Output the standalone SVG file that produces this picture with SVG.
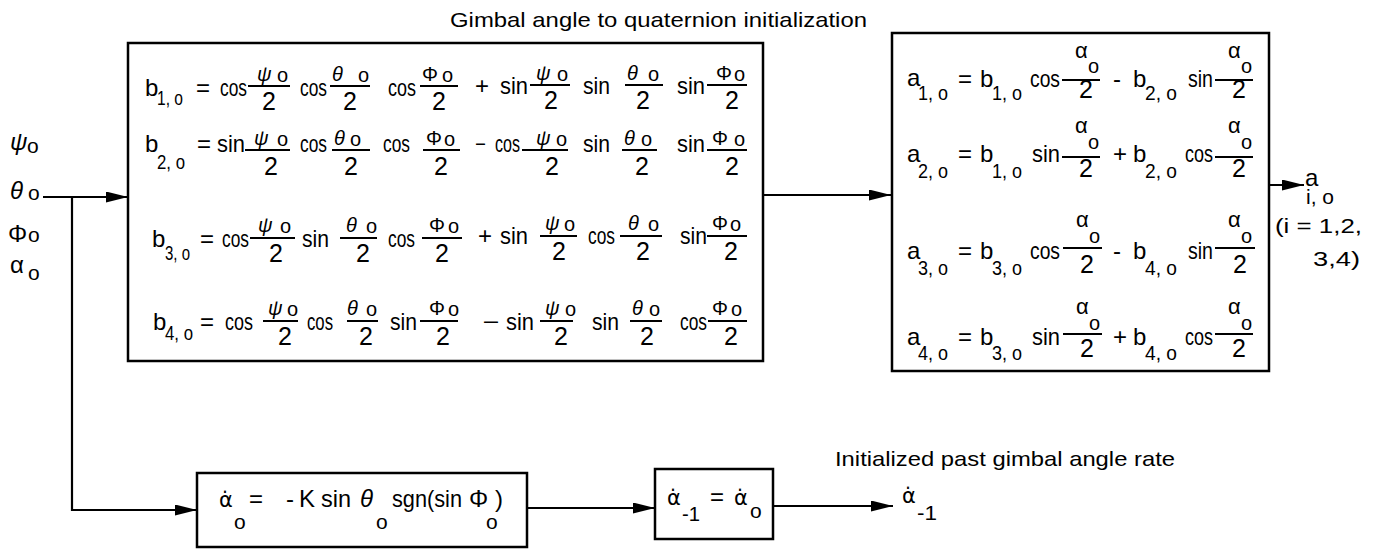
<svg xmlns="http://www.w3.org/2000/svg" width="1381" height="549" viewBox="0 0 1381 549">
<style>
text { font-family: "Liberation Sans", Arial, sans-serif; fill: #000; }
.m { font-size: 24px; }
.s { font-size: 21px; }
.n { font-size: 20px; }
.na { font-size: 22px; }
.d { font-size: 25px; }
.l { font-size: 21px; }
.i { font-style: italic; }
.dv { font-family: "DejaVu Sans", sans-serif; font-size: 21px; }
.box { fill: #fff; stroke: #000; stroke-width: 2.5; }
.f { stroke: #000; stroke-width: 2; }
.c { fill: none; stroke: #000; stroke-width: 2.2; }
</style>
<defs>
<marker id="ah" markerUnits="userSpaceOnUse" markerWidth="22" markerHeight="11" refX="22" refY="5.5" orient="auto">
<path d="M0,0 L22,5.5 L0,11 z" fill="#000"/>
</marker>
</defs>
<rect width="1381" height="549" fill="#fff"/>

<g id="connectors">
<path class="c" d="M43,197 H128" marker-end="url(#ah)"/>
<path class="c" d="M72,197 V510 H197" marker-end="url(#ah)"/>
<path class="c" d="M763,195 H891" marker-end="url(#ah)"/>
<path class="c" d="M1269,185 H1304" marker-end="url(#ah)"/>
<path class="c" d="M527,508 H655" marker-end="url(#ah)"/>
<path class="c" d="M773,506 H893" marker-end="url(#ah)"/>
</g>

<g id="inputs">
<text class="m i" x="10" y="150">ψ</text><text class="s" x="27" y="153">o</text>
<text class="m i" x="10" y="199">θ</text><text class="s" x="28" y="200">o</text>
<text class="m" x="8" y="242">Φ</text><text class="s" x="28" y="242">o</text>
<text class="m" x="10" y="273">α</text><text class="s" x="28" y="280">o</text>
</g>

<g id="quaternion-b">
<text class="l" x="450" y="27" textLength="417" lengthAdjust="spacingAndGlyphs">Gimbal angle to quaternion initialization</text>
<rect class="box" x="128" y="43" width="635" height="318"/>
<!-- row 1 -->
<text class="m" x="145" y="96">b</text>
<text class="s" x="157" y="105" textLength="26" lengthAdjust="spacingAndGlyphs">1, o</text>
<text class="m" x="196" y="96">=</text>
<text class="m" x="220" y="96" textLength="27" lengthAdjust="spacingAndGlyphs">cos</text>
<line class="f" x1="248" y1="86" x2="290" y2="86"/><text class="n" y="81"><tspan class="i" x="257">ψ</tspan><tspan x="277" dy="1">o</tspan></text><text class="d" x="269" y="110" text-anchor="middle">2</text>
<text class="m" x="300" y="96" textLength="27" lengthAdjust="spacingAndGlyphs">cos</text>
<line class="f" x1="330" y1="86" x2="370" y2="86"/><text class="n" y="81"><tspan class="i" x="332">θ</tspan><tspan x="358" dy="1">o</tspan></text><text class="d" x="350" y="110" text-anchor="middle">2</text>
<text class="m" x="388" y="96" textLength="28" lengthAdjust="spacingAndGlyphs">cos</text>
<line class="f" x1="420" y1="86" x2="458" y2="86"/><text class="n" y="81"><tspan x="422">Φ</tspan><tspan x="442" dy="1">o</tspan></text><text class="d" x="439" y="110" text-anchor="middle">2</text>
<text class="m" x="475" y="94">+</text>
<text class="m" x="500" y="94" textLength="28" lengthAdjust="spacingAndGlyphs">sin</text>
<line class="f" x1="530" y1="85" x2="570" y2="85"/><text class="n" y="80"><tspan class="i" x="536">ψ</tspan><tspan x="557" dy="1">o</tspan></text><text class="d" x="551" y="109" text-anchor="middle">2</text>
<text class="m" x="583" y="94" textLength="27" lengthAdjust="spacingAndGlyphs">sin</text>
<line class="f" x1="625" y1="85" x2="663" y2="85"/><text class="n" y="80"><tspan class="i" x="627">θ</tspan><tspan x="648" dy="1">o</tspan></text><text class="d" x="643" y="109" text-anchor="middle">2</text>
<text class="m" x="677" y="94" textLength="28" lengthAdjust="spacingAndGlyphs">sin</text>
<line class="f" x1="707" y1="85" x2="747" y2="85"/><text class="n" y="80"><tspan x="716">Φ</tspan><tspan x="734" dy="1">o</tspan></text><text class="d" x="732" y="109" text-anchor="middle">2</text>
<!-- row 2 -->
<text class="m" x="145" y="152">b</text>
<text class="s" x="157" y="169" textLength="28" lengthAdjust="spacingAndGlyphs">2, o</text>
<text class="m" x="197" y="152">=</text>
<text class="m" x="217" y="152" textLength="28" lengthAdjust="spacingAndGlyphs">sin</text>
<line class="f" x1="245" y1="150" x2="290" y2="150"/><text class="n" y="145"><tspan class="i" x="254">ψ</tspan><tspan x="277" dy="1">o</tspan></text><text class="d" x="271" y="175" text-anchor="middle">2</text>
<text class="m" x="300" y="152" textLength="27" lengthAdjust="spacingAndGlyphs">cos</text>
<line class="f" x1="332" y1="150" x2="370" y2="150"/><text class="n" y="145"><tspan class="i" x="334">θ</tspan><tspan x="350" dy="1">o</tspan></text><text class="d" x="351" y="175" text-anchor="middle">2</text>
<text class="m" x="383" y="152" textLength="27" lengthAdjust="spacingAndGlyphs">cos</text>
<line class="f" x1="423" y1="150" x2="460" y2="150"/><text class="n" y="145"><tspan x="426">Φ</tspan><tspan x="444" dy="1">o</tspan></text><text class="d" x="441" y="175" text-anchor="middle">2</text>
<text class="m" x="476" y="150" textLength="9" lengthAdjust="spacingAndGlyphs">–</text>
<text class="m" x="495" y="152" textLength="25" lengthAdjust="spacingAndGlyphs">cos</text>
<line class="f" x1="522" y1="150" x2="568" y2="150"/><text class="n" y="145"><tspan class="i" x="536">ψ</tspan><tspan x="556" dy="1">o</tspan></text><text class="d" x="552" y="175" text-anchor="middle">2</text>
<text class="m" x="583" y="152" textLength="27" lengthAdjust="spacingAndGlyphs">sin</text>
<line class="f" x1="622" y1="150" x2="657" y2="150"/><text class="n" y="145"><tspan class="i" x="624">θ</tspan><tspan x="641" dy="1">o</tspan></text><text class="d" x="642" y="175" text-anchor="middle">2</text>
<text class="m" x="677" y="152" textLength="28" lengthAdjust="spacingAndGlyphs">sin</text>
<line class="f" x1="707" y1="150" x2="747" y2="150"/><text class="n" y="145"><tspan x="712">Φ</tspan><tspan x="734" dy="1">o</tspan></text><text class="d" x="732" y="175" text-anchor="middle">2</text>
<!-- row 3 -->
<text class="m" x="152" y="247">b</text>
<text class="s" x="165" y="260" textLength="25" lengthAdjust="spacingAndGlyphs">3, o</text>
<text class="m" x="200" y="247">=</text>
<text class="m" x="222" y="247" textLength="27" lengthAdjust="spacingAndGlyphs">cos</text>
<line class="f" x1="250" y1="238" x2="295" y2="238"/><text class="n" y="232"><tspan class="i" x="258">ψ</tspan><tspan x="280" dy="1">o</tspan></text><text class="d" x="276" y="262" text-anchor="middle">2</text>
<text class="m" x="302" y="247" textLength="27" lengthAdjust="spacingAndGlyphs">sin</text>
<line class="f" x1="340" y1="238" x2="377" y2="238"/><text class="n" y="232"><tspan class="i" x="346">θ</tspan><tspan x="366" dy="1">o</tspan></text><text class="d" x="363" y="262" text-anchor="middle">2</text>
<text class="m" x="388" y="247" textLength="27" lengthAdjust="spacingAndGlyphs">cos</text>
<line class="f" x1="422" y1="238" x2="462" y2="238"/><text class="n" y="232"><tspan x="429">Φ</tspan><tspan x="448" dy="1">o</tspan></text><text class="d" x="442" y="262" text-anchor="middle">2</text>
<text class="m" x="478" y="244">+</text>
<text class="m" x="500" y="244" textLength="28" lengthAdjust="spacingAndGlyphs">sin</text>
<line class="f" x1="540" y1="236" x2="577" y2="236"/><text class="n" y="230"><tspan class="i" x="545">ψ</tspan><tspan x="564" dy="1">o</tspan></text><text class="d" x="559" y="260" text-anchor="middle">2</text>
<text class="m" x="588" y="244" textLength="27" lengthAdjust="spacingAndGlyphs">cos</text>
<line class="f" x1="620" y1="236" x2="662" y2="236"/><text class="n" y="230"><tspan class="i" x="628">θ</tspan><tspan x="648" dy="1">o</tspan></text><text class="d" x="643" y="260" text-anchor="middle">2</text>
<text class="m" x="680" y="244" textLength="27" lengthAdjust="spacingAndGlyphs">sin</text>
<line class="f" x1="707" y1="236" x2="747" y2="236"/><text class="n" y="230"><tspan x="712">Φ</tspan><tspan x="730" dy="1">o</tspan></text><text class="d" x="731" y="260" text-anchor="middle">2</text>
<!-- row 4 -->
<text class="m" x="153" y="330">b</text>
<text class="s" x="165" y="340" textLength="28" lengthAdjust="spacingAndGlyphs">4, o</text>
<text class="m" x="200" y="330">=</text>
<text class="m" x="225" y="330" textLength="28" lengthAdjust="spacingAndGlyphs">cos</text>
<line class="f" x1="263" y1="321" x2="298" y2="321"/><text class="n" y="315"><tspan class="i" x="268">ψ</tspan><tspan x="287" dy="1">o</tspan></text><text class="d" x="285" y="345" text-anchor="middle">2</text>
<text class="m" x="307" y="330" textLength="26" lengthAdjust="spacingAndGlyphs">cos</text>
<line class="f" x1="347" y1="321" x2="378" y2="321"/><text class="n" y="315"><tspan class="i" x="347">θ</tspan><tspan x="366" dy="1">o</tspan></text><text class="d" x="366" y="345" text-anchor="middle">2</text>
<text class="m" x="390" y="330" textLength="27" lengthAdjust="spacingAndGlyphs">sin</text>
<line class="f" x1="420" y1="321" x2="458" y2="321"/><text class="n" y="315"><tspan x="429">Φ</tspan><tspan x="448" dy="1">o</tspan></text><text class="d" x="443" y="345" text-anchor="middle">2</text>
<text class="m" x="484" y="328" textLength="14" lengthAdjust="spacingAndGlyphs">–</text>
<text class="m" x="506" y="330" textLength="28" lengthAdjust="spacingAndGlyphs">sin</text>
<line class="f" x1="540" y1="321" x2="573" y2="321"/><text class="n" y="315"><tspan class="i" x="545">ψ</tspan><tspan x="565" dy="1">o</tspan></text><text class="d" x="561" y="345" text-anchor="middle">2</text>
<text class="m" x="592" y="330" textLength="27" lengthAdjust="spacingAndGlyphs">sin</text>
<line class="f" x1="630" y1="321" x2="662" y2="321"/><text class="n" y="315"><tspan class="i" x="632">θ</tspan><tspan x="649" dy="1">o</tspan></text><text class="d" x="647" y="345" text-anchor="middle">2</text>
<text class="m" x="680" y="330" textLength="27" lengthAdjust="spacingAndGlyphs">cos</text>
<line class="f" x1="708" y1="321" x2="747" y2="321"/><text class="n" y="315"><tspan x="712">Φ</tspan><tspan x="731" dy="1">o</tspan></text><text class="d" x="731" y="345" text-anchor="middle">2</text>
</g>

<g id="quaternion-a">
<rect class="box" x="892" y="33" width="377" height="338"/>
<!-- a1 -->
<text class="m" x="907" y="86">a</text><text class="s" x="918" y="100" textLength="30" lengthAdjust="spacingAndGlyphs">1, o</text>
<text class="m" x="958" y="87">=</text>
<text class="m" x="980" y="87">b</text><text class="s" x="992" y="100" textLength="30" lengthAdjust="spacingAndGlyphs">1, o</text>
<text class="m" x="1030" y="87" textLength="30" lengthAdjust="spacingAndGlyphs">cos</text>
<line class="f" x1="1062" y1="80" x2="1100" y2="80"/><text class="na"><tspan x="1075" y="58">α</tspan><tspan x="1088" y="73" class="n">o</tspan></text><text class="d" x="1086" y="98" text-anchor="middle">2</text>
<text class="m" x="1113" y="87">-</text>
<text class="m" x="1133" y="87">b</text><text class="s" x="1145" y="100" textLength="32" lengthAdjust="spacingAndGlyphs">2, o</text>
<text class="m" x="1188" y="87" textLength="25" lengthAdjust="spacingAndGlyphs">sin</text>
<line class="f" x1="1215" y1="80" x2="1253" y2="80"/><text class="na"><tspan x="1228" y="58">α</tspan><tspan x="1241" y="73" class="n">o</tspan></text><text class="d" x="1239" y="98" text-anchor="middle">2</text>
<!-- a2 -->
<text class="m" x="907" y="162">a</text><text class="s" x="918" y="178" textLength="30" lengthAdjust="spacingAndGlyphs">2, o</text>
<text class="m" x="958" y="162">=</text>
<text class="m" x="980" y="162">b</text><text class="s" x="992" y="178" textLength="30" lengthAdjust="spacingAndGlyphs">1, o</text>
<text class="m" x="1032" y="162" textLength="28" lengthAdjust="spacingAndGlyphs">sin</text>
<line class="f" x1="1062" y1="157" x2="1100" y2="157"/><text class="na"><tspan x="1075" y="133">α</tspan><tspan x="1088" y="149" class="n">o</tspan></text><text class="d" x="1086" y="177" text-anchor="middle">2</text>
<text class="m" x="1113" y="162">+</text>
<text class="m" x="1133" y="162">b</text><text class="s" x="1145" y="178" textLength="32" lengthAdjust="spacingAndGlyphs">2, o</text>
<text class="m" x="1185" y="162" textLength="28" lengthAdjust="spacingAndGlyphs">cos</text>
<line class="f" x1="1215" y1="157" x2="1253" y2="157"/><text class="na"><tspan x="1228" y="133">α</tspan><tspan x="1241" y="149" class="n">o</tspan></text><text class="d" x="1239" y="177" text-anchor="middle">2</text>
<!-- a3 -->
<text class="m" x="907" y="259">a</text><text class="s" x="918" y="275" textLength="30" lengthAdjust="spacingAndGlyphs">3, o</text>
<text class="m" x="958" y="259">=</text>
<text class="m" x="980" y="259">b</text><text class="s" x="992" y="275" textLength="30" lengthAdjust="spacingAndGlyphs">3, o</text>
<text class="m" x="1030" y="259" textLength="30" lengthAdjust="spacingAndGlyphs">cos</text>
<line class="f" x1="1063" y1="248" x2="1102" y2="248"/><text class="na"><tspan x="1076" y="227">α</tspan><tspan x="1089" y="243" class="n">o</tspan></text><text class="d" x="1087" y="273" text-anchor="middle">2</text>
<text class="m" x="1113" y="259">-</text>
<text class="m" x="1133" y="259">b</text><text class="s" x="1145" y="275" textLength="32" lengthAdjust="spacingAndGlyphs">4, o</text>
<text class="m" x="1188" y="259" textLength="25" lengthAdjust="spacingAndGlyphs">sin</text>
<line class="f" x1="1215" y1="248" x2="1255" y2="248"/><text class="na"><tspan x="1228" y="227">α</tspan><tspan x="1241" y="243" class="n">o</tspan></text><text class="d" x="1240" y="273" text-anchor="middle">2</text>
<!-- a4 -->
<text class="m" x="907" y="345">a</text><text class="s" x="918" y="360" textLength="30" lengthAdjust="spacingAndGlyphs">4, o</text>
<text class="m" x="958" y="345">=</text>
<text class="m" x="980" y="345">b</text><text class="s" x="992" y="360" textLength="30" lengthAdjust="spacingAndGlyphs">3, o</text>
<text class="m" x="1032" y="345" textLength="28" lengthAdjust="spacingAndGlyphs">sin</text>
<line class="f" x1="1063" y1="334" x2="1102" y2="334"/><text class="na"><tspan x="1076" y="314">α</tspan><tspan x="1089" y="330" class="n">o</tspan></text><text class="d" x="1087" y="357" text-anchor="middle">2</text>
<text class="m" x="1113" y="345">+</text>
<text class="m" x="1133" y="345">b</text><text class="s" x="1145" y="360" textLength="32" lengthAdjust="spacingAndGlyphs">4, o</text>
<text class="m" x="1185" y="345" textLength="28" lengthAdjust="spacingAndGlyphs">cos</text>
<line class="f" x1="1215" y1="334" x2="1253" y2="334"/><text class="na"><tspan x="1228" y="314">α</tspan><tspan x="1241" y="330" class="n">o</tspan></text><text class="d" x="1239" y="357" text-anchor="middle">2</text>
</g>

<g id="output-a">
<text class="m"><tspan x="1305" y="186">a</tspan><tspan x="1306" y="204" class="s">i, o</tspan></text>
<text class="l" x="1275" y="233" textLength="87" lengthAdjust="spacingAndGlyphs">(i = 1,2,</text>
<text class="l" x="1313" y="266" textLength="47" lengthAdjust="spacingAndGlyphs">3,4)</text>
</g>

<g id="rate-init">
<rect class="box" x="197" y="473" width="330" height="74"/>
<text class="dv" x="219" y="507">α̇</text><text class="s" x="234" y="529">o</text>
<text class="m" x="249" y="507">=</text>
<text class="m" x="286" y="507">-</text><text class="m" x="299" y="507">K</text>
<text class="m" x="321" y="507" textLength="30" lengthAdjust="spacingAndGlyphs">sin</text>
<text class="m"><tspan class="i" x="360" y="507">θ</tspan><tspan x="376" y="529" class="s">o</tspan></text>
<text class="m" x="392" y="507" textLength="70" lengthAdjust="spacingAndGlyphs">sgn(sin</text>
<text class="m"><tspan x="469" y="507">Φ</tspan><tspan x="486" y="529" class="s">o</tspan><tspan x="495" y="507">)</tspan></text>
</g>

<g id="rate-past">
<rect class="box" x="655" y="469" width="118" height="70"/>
<text class="dv" x="667" y="505">α̇</text><text class="s" x="682" y="521" textLength="18" lengthAdjust="spacingAndGlyphs">-1</text>
<text class="m" x="710" y="505">=</text>
<text class="dv" x="734" y="505">α̇</text><text class="s" x="750" y="518">o</text>
</g>

<g id="output-rate">
<text class="l" x="835" y="466" textLength="340" lengthAdjust="spacingAndGlyphs">Initialized past gimbal angle rate</text>
<text class="dv" x="902" y="503">α̇</text><text class="s" x="917" y="520" textLength="20" lengthAdjust="spacingAndGlyphs">-1</text>
</g>
</svg>
